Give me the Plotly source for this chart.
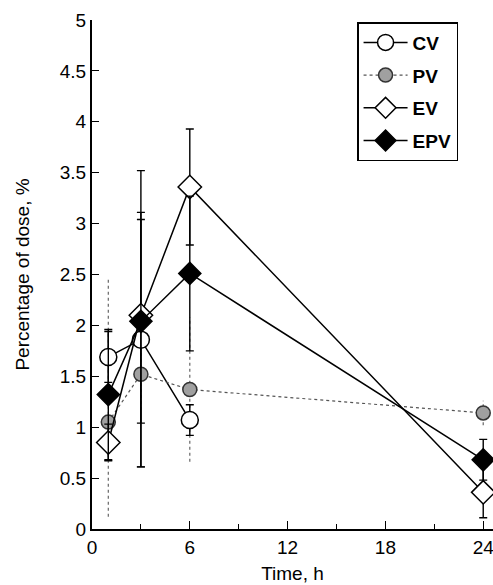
import plotly.graph_objects as go

time_h = [1, 3, 6, 24]
cv = [1.69, 1.86, 1.07, None]
pv = [1.05, 1.52, 1.37, 1.14]
ev = [0.85, 2.10, 3.36, 0.36]
epv = [1.32, 2.04, 2.51, 0.68]

cv_err = [0.25, 1.25, 0.15, None]
pv_err_plus = [1.40, 0.35, 0.71, 0.12]
pv_err_minus = [0.93, 0.35, 0.71, 0.12]
ev_err_plus = [0.18, 1.42, 0.57, 0.25]
ev_err_minus = [0.18, 1.49, 0.57, 0.25]
epv_err = [0.64, 1.00, 0.76, 0.20]

x_ticks = [0, 6, 12, 18, 24]
y_ticks = [0, 0.5, 1, 1.5, 2, 2.5, 3, 3.5, 4, 4.5, 5]
y_labels = ["0", "0.5", "1", "1.5", "2", "2.5", "3", "3.5", "4", "4.5", "5"]

FONT = "Liberation Sans, Arial, sans-serif"

fig = go.Figure()

# dotted error bars for PV
ex, ey = [], []
for t, v, ep, em in zip(time_h, pv, pv_err_plus, pv_err_minus):
    ex += [t, t, None]
    ey += [v - em, v + ep, None]
fig.add_trace(go.Scatter(x=ex, y=ey, mode="lines", showlegend=False,
                         line=dict(color="#666", width=1.2, dash="dot"),
                         hoverinfo="skip"))

def ebar(plus, minus=None):
    d = dict(type="data", array=plus, visible=True, color="black",
             thickness=1.4, width=4)
    if minus is not None:
        d["symmetric"] = False
        d["arrayminus"] = minus
    return d

fig.add_trace(go.Scatter(
    x=time_h, y=cv, name="CV", mode="lines+markers", legendgroup="a",
    line=dict(color="black", width=1.5),
    marker=dict(symbol="circle", size=17, color="white",
                line=dict(color="black", width=1.5)),
    error_y=ebar(cv_err), cliponaxis=False))

fig.add_trace(go.Scatter(
    x=time_h, y=pv, name="PV", mode="lines+markers", legendgroup="b",
    line=dict(color="#555", width=1.2, dash="dot"),
    marker=dict(symbol="circle", size=14, color="#a0a0a0",
                line=dict(color="#333", width=1.5)),
    cliponaxis=False))

fig.add_trace(go.Scatter(
    x=time_h, y=ev, name="EV", mode="lines+markers", legendgroup="c",
    line=dict(color="black", width=1.5),
    marker=dict(symbol="diamond", size=18, color="white",
                line=dict(color="black", width=1.5)),
    error_y=ebar(ev_err_plus, ev_err_minus), cliponaxis=False))

fig.add_trace(go.Scatter(
    x=time_h, y=epv, name="EPV", mode="lines+markers", legendgroup="d",
    line=dict(color="black", width=1.5),
    marker=dict(symbol="diamond", size=17, color="black",
                line=dict(color="black", width=1.5)),
    error_y=ebar(epv_err), cliponaxis=False))

fig.update_layout(
    width=493, height=585,
    margin=dict(l=92, r=0, t=20, b=56),
    paper_bgcolor="white", plot_bgcolor="white",
    font=dict(family=FONT, size=19, color="black"),
    showlegend=True,
    legend=dict(x=0.661, y=0.996, xanchor="left", yanchor="top",
                bordercolor="black", borderwidth=1.5, bgcolor="white",
                font=dict(size=19, family=FONT, weight="bold"),
                tracegroupgap=5, itemwidth=44),
    xaxis=dict(range=[0, 24.6], tickmode="array", tickvals=x_ticks,
               ticktext=[str(v) for v in x_ticks],
               ticklabeloverflow="allow", automargin=False,
               ticks="inside", ticklen=8, tickwidth=1.3, tickcolor="black",
               minor=dict(tickmode="array", tickvals=[3, 9, 15, 21],
                          ticks="inside", ticklen=5, tickwidth=1.2,
                          tickcolor="black"),
               showline=True, linecolor="black", linewidth=2,
               showgrid=False, zeroline=False,
               title=dict(text="Time, h", standoff=10,
                          font=dict(size=19))),
    yaxis=dict(range=[0, 5], tickmode="array", tickvals=y_ticks,
               ticktext=y_labels, automargin=False,
               ticks="inside", ticklen=7, tickwidth=1.3, tickcolor="black",
               showline=True, linecolor="black", linewidth=2,
               showgrid=False, zeroline=False,
               title=dict(text="Percentage of dose, %", standoff=25,
                          font=dict(size=19))),
)

fig.write_html("out.html")
